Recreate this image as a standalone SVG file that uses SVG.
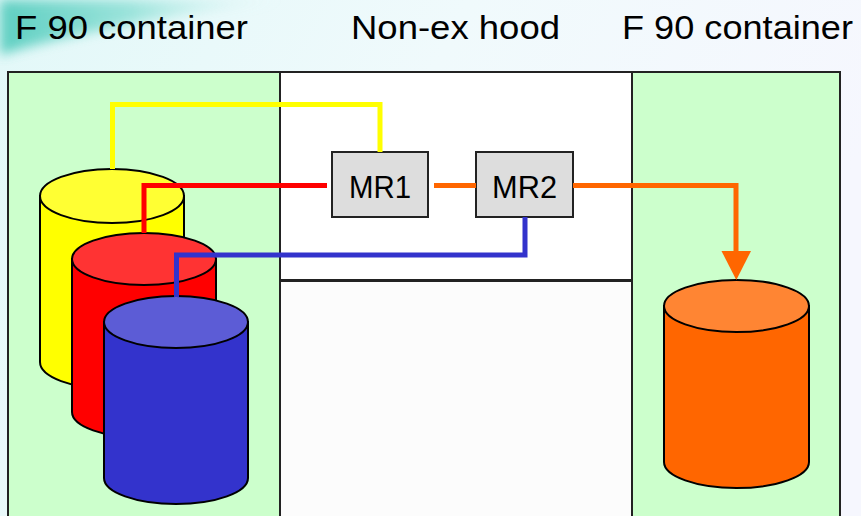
<svg xmlns="http://www.w3.org/2000/svg" width="861" height="516" viewBox="0 0 861 516">
  <defs>
    <linearGradient id="bg" x1="0" y1="0" x2="1" y2="0.3">
      <stop offset="0" stop-color="#e2f8f8"/>
      <stop offset="0.5" stop-color="#f0fafc"/>
      <stop offset="1" stop-color="#f6f7fe"/>
    </linearGradient>
    <linearGradient id="swoosh" x1="0" y1="0" x2="1" y2="0">
      <stop offset="0" stop-color="#48c8b8"/>
      <stop offset="0.45" stop-color="#8ee0d6"/>
      <stop offset="1" stop-color="#e2f8f8" stop-opacity="0"/>
    </linearGradient>
    <filter id="soft" x="-10%" y="-50%" width="120%" height="200%">
      <feGaussianBlur stdDeviation="6"/>
    </filter>
    <style>
      .title { font-family: "Liberation Sans", Arial, sans-serif; font-size: 34px; fill: #000; }
      .zone { stroke: #222; stroke-width: 2; }
      .green { fill: #ccffcc; }
      .box { fill: #dddddd; stroke: #222; stroke-width: 2; }
      .lbl { font-family: "Liberation Sans", Arial, sans-serif; font-size: 32px; fill: #000; text-anchor: middle; }
      .cyl { stroke: #000; stroke-width: 2; }
      .wire { fill: none; stroke-width: 5; stroke-linejoin: miter; stroke-linecap: butt; }
    </style>
  </defs>

  <!-- backdrop -->
  <rect width="861" height="516" fill="url(#bg)"/>
  <path d="M0,0 L290,0 C210,10 90,28 0,55 Z" fill="url(#swoosh)" filter="url(#soft)" opacity="0.85"/>

  <!-- headings -->
  <text class="title" x="15" y="39" textLength="233" lengthAdjust="spacingAndGlyphs">F 90 container</text>
  <text class="title" x="351" y="39" textLength="209" lengthAdjust="spacingAndGlyphs">Non-ex hood</text>
  <text class="title" x="622" y="39" textLength="231" lengthAdjust="spacingAndGlyphs">F 90 container</text>

  <!-- zones -->
  <g id="zone-left"><rect class="zone green" x="8" y="72" width="272" height="460"/></g>
  <g id="zone-hood"><rect class="zone" x="280" y="72" width="352" height="208" fill="#ffffff"/></g>
  <g id="zone-below"><rect class="zone" x="280" y="281" width="352" height="250" fill="#fcfcfc"/></g>
  <g id="zone-right"><rect class="zone green" x="632" y="72" width="208" height="460"/></g>

  <!-- drums -->
  <g id="drum-yellow">
    <path class="cyl" fill="#ffff00" d="M40,196 L40,362 A72,27 0 0 0 184,362 L184,196 Z"/>
    <ellipse class="cyl" fill="#ffff33" cx="112" cy="196" rx="72" ry="27"/>
  </g>
  <g id="drum-red">
    <path class="cyl" fill="#ff0000" d="M72,259 L72,412 A72,26 0 0 0 216,412 L216,259 Z"/>
    <ellipse class="cyl" fill="#ff3333" cx="144" cy="259" rx="72" ry="26"/>
  </g>
  <g id="drum-blue">
    <path class="cyl" fill="#3333cc" d="M104,322 L104,478 A72,26 0 0 0 248,478 L248,322 Z"/>
    <ellipse class="cyl" fill="#5c5cd6" cx="176" cy="322" rx="72" ry="26"/>
  </g>
  <g id="drum-orange">
    <path class="cyl" fill="#ff6600" d="M664,306 L664,462 A72.5,26 0 0 0 809,462 L809,306 Z"/>
    <ellipse class="cyl" fill="#ff8533" cx="736.5" cy="306" rx="72.5" ry="26"/>
  </g>

  <!-- readers -->
  <g id="mr1">
    <rect class="box" x="332" y="152" width="96" height="65"/>
    <text class="lbl" x="380" y="198" textLength="62" lengthAdjust="spacingAndGlyphs">MR1</text>
  </g>
  <g id="mr2">
    <rect class="box" x="476" y="152" width="97" height="65"/>
    <text class="lbl" x="524.5" y="198" textLength="65" lengthAdjust="spacingAndGlyphs">MR2</text>
  </g>

  <!-- connectors -->
  <g id="connectors">
    <polyline class="wire" stroke="#ffff00" points="112.5,169 112.5,104.5 380,104.5 380,152"/>
    <polyline class="wire" stroke="#ff0000" points="144,233 144,185.5 327,185.5"/>
    <line class="wire" stroke="#ff6600" x1="434" y1="185.5" x2="476" y2="185.5"/>
    <polyline class="wire" stroke="#ff6600" points="573,185.5 736,185.5 736,252"/>
    <polygon fill="#ff6600" points="721.5,251 751,251 736.3,280"/>
    <polyline class="wire" stroke="#3333cc" points="525,217 525,255 176.5,255 176.5,297"/>
  </g>
</svg>
